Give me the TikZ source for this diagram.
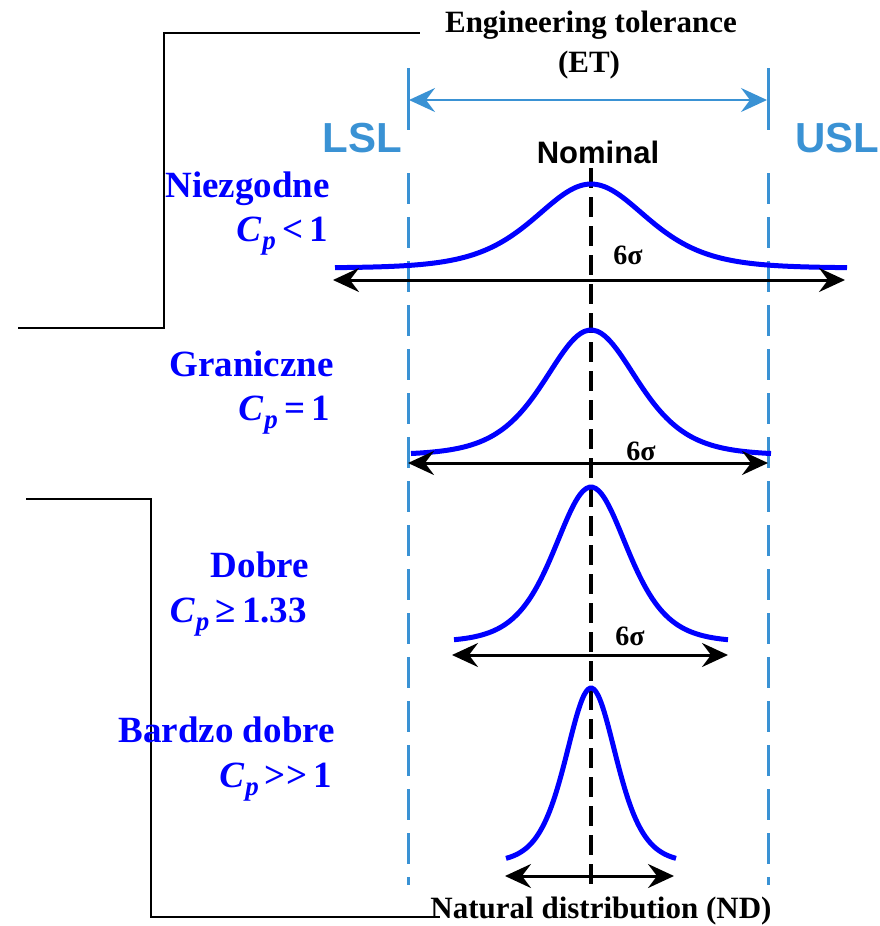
\documentclass[tikz,border=0pt]{standalone}
\usepackage{fontspec}
\setmainfont{Liberation Serif}
\setsansfont{Liberation Sans}
\usetikzlibrary{arrows.meta}
\definecolor{limitblue}{RGB}{58,146,212}
\definecolor{curveblue}{RGB}{0,0,255}
% half span, shape scale, base line, height
\newcommand{\bellcurve}[4]{%
  \draw[bell] plot[domain=-#1:#1, samples=90, smooth] ({591+\x},{#3-#4/(cosh(\x/#2)^2)});
}
\newcommand{\cpsym}{\textit{C}\kern1pt\raisebox{-8pt}{\fontsize{27}{28}\selectfont\textit{p}}}

\begin{document}
\begin{tikzpicture}[x=1pt,y=-1pt,
    >={Stealth[length=26pt,width=24pt,inset=9pt]},
    bracket/.style={black, line width=2pt},
    limit/.style={limitblue, line width=3pt},
    limitdash/.style={limitblue, line width=3pt, dash pattern=on 31pt off 13pt},
    nomdash/.style={black, line width=3.5pt, dash pattern=on 20pt off 9pt},
    bell/.style={curveblue, line width=5pt},
    spread/.style={black, line width=3pt, <->},
    grade/.style={text=curveblue, font=\fontsize{37}{40}\selectfont\bfseries, anchor=base east, inner sep=0pt},
    sig/.style={font=\fontsize{28}{30}\selectfont\bfseries, inner sep=0pt},
    title/.style={font=\fontsize{31}{34}\selectfont\bfseries, anchor=base, inner sep=0pt},
    limtext/.style={text=limitblue, font=\sffamily\fontsize{42}{46}\selectfont\bfseries, anchor=base, inner sep=0pt}]
  \useasboundingbox (0,0) rectangle (880,926);

  % brackets on the left
  \coordinate (b1a) at (18,328);
  \coordinate (b1b) at (164,328);
  \coordinate (b1c) at (164,33);
  \coordinate (b1d) at (420,33);
  \draw[bracket] (b1a) -- (b1b) -- (b1c) -- (b1d);
  \coordinate (b2a) at (26,499);
  \coordinate (b2b) at (151,499);
  \coordinate (b2c) at (151,917);
  \coordinate (b2d) at (440,917);
  \draw[bracket] (b2a) -- (b2b) -- (b2c) -- (b2d);

  % specification limits
  \coordinate (lsltop) at (408,68);
  \coordinate (lslbot) at (408,130);
  \coordinate (usltop) at (768,68);
  \coordinate (uslbot) at (768,130);
  \draw[limit] (lsltop) -- (lslbot);
  \draw[limit] (usltop) -- (uslbot);
  \coordinate (etl) at (409,100);
  \coordinate (etr) at (767,100);
  \draw[limit, line width=2.5pt, <->] (etl) -- (etr);
  \coordinate (lsld1) at (408,173);
  \coordinate (lsld2) at (408,885);
  \coordinate (usld1) at (768,173);
  \coordinate (usld2) at (768,885);
  \draw[limitdash] (lsld1) -- (lsld2);
  \draw[limitdash] (usld1) -- (usld2);
  \node[limtext, anchor=base east] (lsl) at (402,152) {LSL};
  \node[limtext, anchor=base west] (usl) at (795,152) {USL};

  \node[title] (et1) at (591,32) {Engineering tolerance};
  \node[title] (et2) at (589,72) {(ET)};
  \node[font=\sffamily\fontsize{31}{34}\selectfont\bfseries, anchor=base, inner sep=0pt] (nom) at (598,163) {Nominal};
  \node[title] (nd) at (601,918) {Natural distribution (ND)};

  % nominal line
  \coordinate (nomd1) at (591,168);
  \coordinate (nomd2) at (591,885);
  \draw[nomdash] (nomd1) -- (nomd2);

  % distributions
  \bellcurve{256}{75}{268}{84}
  \bellcurve{180}{62}{455}{125}
  \bellcurve{137}{49}{642}{155}
  \bellcurve{85}{34}{863}{175}

  \coordinate (s1l) at (333,280);
  \coordinate (s1r) at (845,280);
  \draw[spread] (s1l) -- (s1r);
  \node[sig] (s1) at (628,255) {6σ};
  \coordinate (s2l) at (408,463);
  \coordinate (s2r) at (768,463);
  \draw[spread] (s2l) -- (s2r);
  \node[sig] (s2) at (641,451) {6σ};
  \coordinate (s3l) at (452,655);
  \coordinate (s3r) at (728,655);
  \draw[spread] (s3l) -- (s3r);
  \node[sig] (s3) at (630,636) {6σ};
  \coordinate (s4l) at (505,876);
  \coordinate (s4r) at (674,876);
  \draw[spread] (s4l) -- (s4r);

  % grades
  \node[grade] (g1) at (330,197) {Niezgodne};
  \node[grade] (c1) at (328,241) {\cpsym\,<\,1};
  \node[grade] (g2) at (334,376) {Graniczne};
  \node[grade] (c2) at (330,420) {\cpsym\,=\,1};
  \node[grade] (g3) at (309,577) {Dobre};
  \node[grade] (c3) at (307,622) {\cpsym\,≥\,1.33};
  \node[grade] (g4) at (335,742) {Bardzo dobre};
  \node[grade] (c4) at (332,787) {\cpsym\,>{}>\,1};
\end{tikzpicture}
\end{document}
